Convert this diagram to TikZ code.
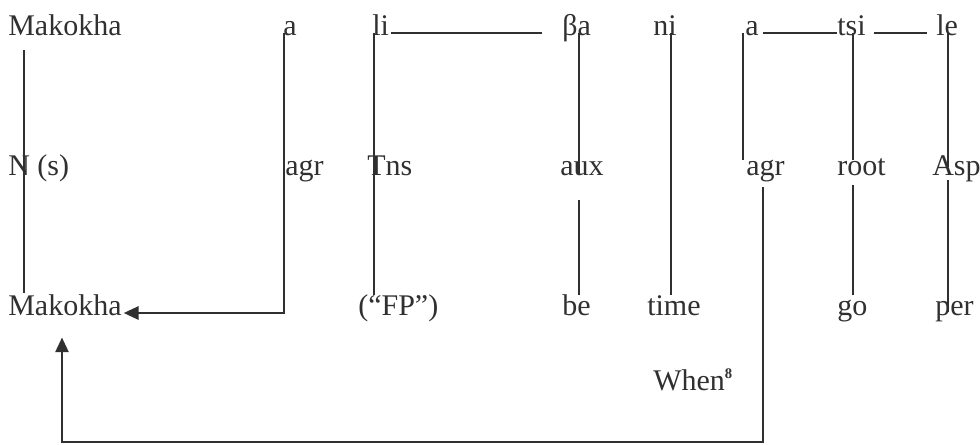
\documentclass[tikz,border=0pt]{standalone}
\usepackage{fontspec}
\setmainfont{Liberation Serif}
\usetikzlibrary{arrows.meta,calc}
\definecolor{ink}{HTML}{303030}
\tikzset{
  w/.style={anchor=base west, inner sep=0pt, text=ink, font=\fontsize{22.5}{27}\selectfont},
  ln/.style={draw=ink, line width=1.3pt},
  arr/.style={ln, -{Triangle[length=11pt,width=10pt]}}
}
\begin{document}
\begin{tikzpicture}[x=0.75pt,y=-0.75pt]
\useasboundingbox (0,0) rectangle (980,444);
% row 1
\node[w] (mak1) at (8,35) {Makokha};
\node[w] (a1) at (283,35) {a};
\node[w] (li) at (372,35) {li};
\node[w] (ba) at (562,35) {βa};
\node[w] (ni) at (653,35) {ni};
\node[w] (a2) at (745,35) {a};
\node[w] (tsi) at (837,35) {tsi};
\node[w] (le) at (936,35) {le};
% row 2
\node[w] (ns) at (8,175) {N (s)};
\node[w] (agr1) at (285,175) {agr};
\node[w] (tns) at (367,175) {Tns};
\node[w] (aux) at (560,175) {aux};
\node[w] (agr2) at (746,175) {agr};
\node[w] (root) at (837,175) {root};
\node[w] (asp) at (932,175) {Asp};
% row 3
\node[w] (mak2) at (8,315) {Makokha};
\node[w] (fp) at (358,315) {(“FP”)};
\node[w] (be) at (562,315) {be};
\node[w] (time) at (647,315) {time};
\node[w] (go) at (837,315) {go};
\node[w] (per) at (935,315) {per};
\node[w] (when) at (653,390) {When\raisebox{0.85ex}{\fontsize{11}{12}\selectfont\bfseries 8}};
% coordinates
\coordinate (c1) at (284,313);
\coordinate (c2) at (763,442);
\coordinate (c3) at (62,442);
% connectors
\draw[ln] ($(mak1.base west)+(16,15)$) -- ($(mak2.base west)+(16,-22)$);
\draw[arr] ($(a1.base west)+(1,-2)$) -- (c1) -- ($(mak2.base east)+(2,-2)$);
\draw[ln] ($(li.base west)+(2,-2)$) -- ($(fp.base west)+(16,-20)$);
\draw[ln] ($(li.base east)+(2,-2)$) -- ($(ba.base west)+(-20,-2)$);
\draw[ln] ($(ba.base west)+(17,-2)$) -- ($(aux.base west)+(19,0)$);
\draw[ln] ($(aux.base west)+(19,25)$) -- ($(be.base west)+(17,-20)$);
\draw[ln] ($(ni.base west)+(18,-2)$) -- ($(time.base west)+(24,-20)$);
\draw[ln] ($(a2.base west)+(-2,-2)$) -- ($(agr2.base west)+(-3,-15)$);
\draw[ln] ($(a2.base east)+(4,-2)$) -- ($(tsi.base west)+(0,-2)$);
\draw[arr] ($(agr2.base west)+(17,12)$) -- (c2) -- (c3) -- ($(mak2.south west)+(54,22)$);
\draw[ln] ($(tsi.base west)+(16,-2)$) -- ($(root.base west)+(16,-15)$);
\draw[ln] ($(root.base west)+(16,10)$) -- ($(go.base west)+(16,-20)$);
\draw[ln] ($(tsi.base east)+(8,-2)$) -- ($(le.base west)+(-9,-2)$);
\draw[ln] ($(le.base west)+(12,-2)$) -- ($(asp.base west)+(16,-8)$);
\draw[ln] ($(asp.base west)+(16,5)$) -- ($(per.base west)+(13,-3)$);
\end{tikzpicture}
\end{document}
